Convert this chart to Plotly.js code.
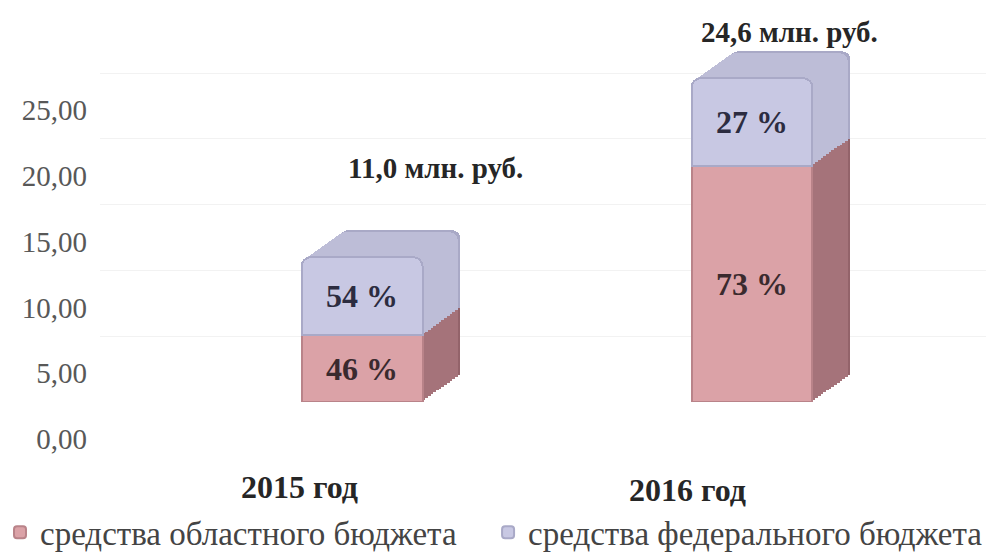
<!DOCTYPE html>
<html>
<head>
<meta charset="utf-8">
<script src="https://cdn.plot.ly/plotly-3.0.1.min.js"></script>
<style>html,body{margin:0;padding:0;background:#fff;}#chart{width:986px;height:555px;}</style>
</head>
<body>
<div id="chart"></div>
<script>
// Data
var categories = ['2015 год', '2016 год'];
var totals = [11.0, 24.6];                 // млн. руб.
var regionalPct = [46, 73];                // средства областного бюджета, %
var federalPct = [54, 27];                 // средства федерального бюджета, %
var seriesNames = ['средства областного бюджета', 'средства федерального бюджета'];
var totalLabels = ['11,0 млн. руб.', '24,6 млн. руб.'];
var yTicks = [0, 5, 10, 15, 20, 25];

var regionalVals = totals.map(function (t, i) { return t * regionalPct[i] / 100; });
var federalVals = totals.map(function (t, i) { return t * federalPct[i] / 100; });

var serif = 'Liberation Serif, Times New Roman, serif';
var barW = 0.31;

// front range of the category axis and value axis
var xFront = [-0.672, 1.6];
var yFront = [0, 29.03];
// depth of the pseudo-3D extrusion (axis units) and number of layers
var dx = 0.0974, dy = 2.05, nLayers = 14;

var traces = [];
var layout = {
  width: 986, height: 555,
  margin: {l: 100, r: 0, t: 20, b: 153},
  paper_bgcolor: '#ffffff', plot_bgcolor: '#ffffff',
  separators: ', ',
  barmode: 'stack',
  showlegend: true
};

function axName(i) { return i === 1 ? '' : String(i); }

// extrusion layers, deepest first (axis 1 .. nLayers)
for (var k = nLayers; k >= 1; k--) {
  var idx = nLayers - k + 1;
  var f = k / nLayers;
  var xa = 'x' + axName(idx), ya = 'y' + axName(idx);
  var xk = 'xaxis' + axName(idx), yk = 'yaxis' + axName(idx);
  layout[xk] = {
    type: 'category', range: [xFront[0] - dx * f, xFront[1] - dx * f],
    showgrid: false, zeroline: false, showline: false, ticks: '', showticklabels: false
  };
  layout[yk] = {
    range: [yFront[0] - dy * f, yFront[1] - dy * f],
    showgrid: false, zeroline: false, showline: false, ticks: '', showticklabels: false
  };
  if (idx > 1) { layout[xk].overlaying = 'x'; layout[yk].overlaying = 'y'; }
  traces.push({
    type: 'bar', x: categories, y: regionalVals, xaxis: xa, yaxis: ya,
    width: barW, showlegend: false, hoverinfo: 'skip',
    marker: {color: k === nLayers ? '#93636a' : '#a5737a', line: {width: 0}, cornerradius: 8}
  });
  traces.push({
    type: 'bar', x: categories, y: federalVals, xaxis: xa, yaxis: ya,
    width: barW, showlegend: false, hoverinfo: 'skip',
    marker: {color: k === nLayers ? '#a9a9c6' : '#bdbdd7', line: {width: 0}, cornerradius: 8}
  });
}

// front faces
var fi = nLayers + 1;
var fx = 'x' + fi, fy = 'y' + fi;
layout['xaxis' + fi] = {
  type: 'category', overlaying: 'x', range: xFront,
  showgrid: false, zeroline: false, showline: false, ticks: '', showticklabels: false
};
layout['yaxis' + fi] = {
  overlaying: 'y', side: 'left', range: yFront, tickvals: yTicks, tickformat: '.2f',
  showgrid: true, gridcolor: '#f2f2f2', zeroline: false, showline: false,
  tickfont: {family: serif, size: 29, color: '#585858'},
  ticklabelstandoff: 12, ticklabelshift: 37
};
traces.push({
  type: 'bar', name: seriesNames[0], x: categories, y: regionalVals, xaxis: fx, yaxis: fy,
  width: barW, legend: 'legend',
  text: regionalPct.map(function (p) { return p + ' %'; }),
  textposition: 'inside', insidetextanchor: 'middle',
  textfont: {family: serif, size: 32, color: '#3a2a2e', weight: 'bold'},
  marker: {color: '#dba2a7', line: {color: '#b98389', width: 2}, cornerradius: 9},
  hoverinfo: 'skip'
});
traces.push({
  type: 'bar', name: seriesNames[1], x: categories, y: federalVals, xaxis: fx, yaxis: fy,
  width: barW, legend: 'legend2',
  text: federalPct.map(function (p) { return p + ' %'; }),
  textposition: 'inside', insidetextanchor: 'middle',
  textfont: {family: serif, size: 32, color: '#2c2c40', weight: 'bold'},
  marker: {color: '#c8c8e3', line: {color: '#a9a9c7', width: 2}, cornerradius: 9},
  hoverinfo: 'skip'
});

layout.annotations = categories.map(function (c, i) {
  return {
    x: c, xref: fx, y: [17.8, 28.1][i], yref: fy,
    text: '<b>' + totalLabels[i] + '</b>', showarrow: false,
    xshift: [73, 37][i], yanchor: 'middle',
    font: {family: serif, size: 29, color: '#262626'}
  };
}).concat(categories.map(function (c, i) {
  return {
    x: c, xref: fx, y: 0, yref: 'paper',
    text: '<b>' + c + '</b>', showarrow: false,
    xshift: [-63, -65][i], yshift: [-85, -88][i], yanchor: 'middle',
    font: {family: serif, size: 32, color: '#262626'}
  };
}));

var legendFont = {family: serif, size: 33, color: '#444'};
layout.legend = {
  orientation: 'h', xref: 'container', yref: 'container',
  x: -0.014, y: 0.041, xanchor: 'left', yanchor: 'middle',
  font: legendFont, bgcolor: 'rgba(0,0,0,0)'
};
layout.legend2 = {
  orientation: 'h', xref: 'container', yref: 'container',
  x: 0.495, y: 0.041, xanchor: 'left', yanchor: 'middle',
  font: legendFont, bgcolor: 'rgba(0,0,0,0)'
};

Plotly.newPlot('chart', traces, layout, {displayModeBar: false, staticPlot: true});
</script>
</body>
</html>
